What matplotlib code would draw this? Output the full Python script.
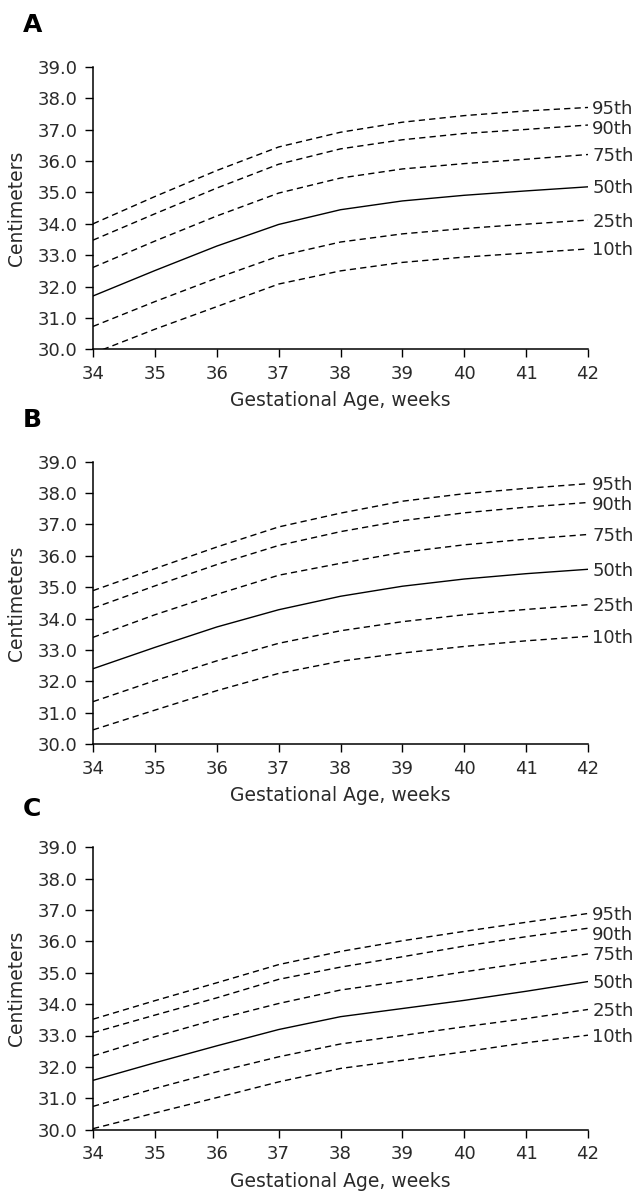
import matplotlib
matplotlib.use("Agg")
import matplotlib.pyplot as plt

# ---------------- data ----------------
weeks = [34, 35, 36, 37, 38, 39, 40, 41, 42]
percentile_labels = ["95th", "90th", "75th", "50th", "25th", "10th"]
panel_letters = ["A", "B", "C"]

# Panel A
a_p95 = [34.00, 34.87, 35.70, 36.45, 36.92, 37.24, 37.45, 37.60, 37.71]
a_p90 = [33.48, 34.32, 35.14, 35.90, 36.39, 36.68, 36.88, 37.01, 37.15]
a_p75 = [32.61, 33.45, 34.25, 34.98, 35.46, 35.75, 35.92, 36.06, 36.21]
a_p50 = [31.70, 32.51, 33.29, 33.98, 34.45, 34.73, 34.91, 35.05, 35.18]
a_p25 = [30.73, 31.52, 32.27, 32.97, 33.42, 33.68, 33.85, 33.99, 34.12]
a_p10 = [29.87, 30.64, 31.36, 32.08, 32.50, 32.77, 32.94, 33.07, 33.20]

# Panel B
b_p95 = [34.89, 35.59, 36.28, 36.92, 37.36, 37.74, 37.98, 38.15, 38.30]
b_p90 = [34.33, 35.04, 35.72, 36.33, 36.77, 37.12, 37.37, 37.55, 37.70]
b_p75 = [33.40, 34.12, 34.77, 35.38, 35.76, 36.11, 36.35, 36.53, 36.68]
b_p50 = [32.40, 33.08, 33.73, 34.28, 34.71, 35.03, 35.26, 35.43, 35.57]
b_p25 = [31.35, 32.02, 32.65, 33.21, 33.61, 33.90, 34.12, 34.29, 34.44]
b_p10 = [30.45, 31.08, 31.70, 32.25, 32.64, 32.90, 33.11, 33.29, 33.43]

# Panel C
c_p95 = [33.52, 34.11, 34.68, 35.26, 35.68, 36.02, 36.32, 36.61, 36.89]
c_p90 = [33.09, 33.65, 34.20, 34.79, 35.18, 35.51, 35.85, 36.15, 36.42]
c_p75 = [32.35, 32.96, 33.52, 34.02, 34.45, 34.73, 35.03, 35.32, 35.60]
c_p50 = [31.57, 32.13, 32.67, 33.19, 33.60, 33.86, 34.12, 34.41, 34.72]
c_p25 = [30.74, 31.31, 31.84, 32.32, 32.73, 33.00, 33.28, 33.54, 33.83]
c_p10 = [30.03, 30.53, 31.02, 31.52, 31.95, 32.21, 32.48, 32.77, 33.01]

y_ticks = [30.0, 31.0, 32.0, 33.0, 34.0, 35.0, 36.0, 37.0, 38.0, 39.0]
x_label = "Gestational Age, weeks"
y_label = "Centimeters"

panels = [
    [a_p95, a_p90, a_p75, a_p50, a_p25, a_p10],
    [b_p95, b_p90, b_p75, b_p50, b_p25, b_p10],
    [c_p95, c_p90, c_p75, c_p50, c_p25, c_p10],
]

# ---------------- layout ----------------
W, H = 637, 1193
plt.rcParams["font.family"] = ["DejaVu Sans"]
fig = plt.figure(figsize=(W / 100, H / 100), dpi=100)

text_color = "#2a2a2a"
left_px, right_px = 93, 588
axes_tops = [67.0, 461.7, 847.3]
axes_h = 282.3
letter_baselines = [31.7, 426.7, 816.0]
min_label_gap_px = 20.0
px_per_unit = axes_h / 9.0

for i, series in enumerate(panels):
    top = axes_tops[i]
    ax = fig.add_axes([left_px / W, 1 - (top + axes_h) / H,
                       (right_px - left_px) / W, axes_h / H])
    prev_px = None
    for label, vals in zip(percentile_labels, series):
        style = "-" if label == "50th" else (0, (4.5, 3.0))
        ax.plot(weeks, vals, color="black", linewidth=1.0, linestyle=style)
        # label end position in pixels (push down if too close to label above)
        end_px = (vals[-1] - y_ticks[0]) * px_per_unit
        lab_px = end_px if prev_px is None else min(end_px, prev_px - min_label_gap_px)
        prev_px = lab_px
        dy_pt = (lab_px - end_px) * 72.0 / 100.0
        ax.annotate(label, xy=(weeks[-1], vals[-1]), xytext=(3, -4.7 + dy_pt),
                    textcoords="offset points", ha="left", va="baseline",
                    fontsize=13, color=text_color, annotation_clip=False)
    ax.set_xlim(weeks[0], weeks[-1])
    ax.set_ylim(y_ticks[0], y_ticks[-1])
    ax.set_xticks(weeks)
    ax.set_xticklabels([str(w) for w in weeks])
    ax.set_yticks(y_ticks)
    ax.set_yticklabels([f"{t:.1f}" for t in y_ticks])
    for s in ["top", "right"]:
        ax.spines[s].set_visible(False)
    for s in ["left", "bottom"]:
        ax.spines[s].set_linewidth(1.1)
        ax.spines[s].set_color("black")
    ax.tick_params(axis="both", direction="out", length=5.8, width=1.0,
                   labelsize=13, labelcolor=text_color)
    ax.tick_params(axis="x", pad=5.5)
    ax.tick_params(axis="y", pad=5.5)
    ax.set_xlabel(x_label, fontsize=13.5, color=text_color, labelpad=6)
    ax.set_ylabel(y_label, fontsize=13.5, color=text_color, labelpad=8)
    ax.patch.set_alpha(0)
    fig.text(22.7 / W, 1 - letter_baselines[i] / H, panel_letters[i],
             ha="left", va="baseline", fontsize=18, fontweight="bold",
             color="black")

fig.savefig("out.png", dpi=100)
